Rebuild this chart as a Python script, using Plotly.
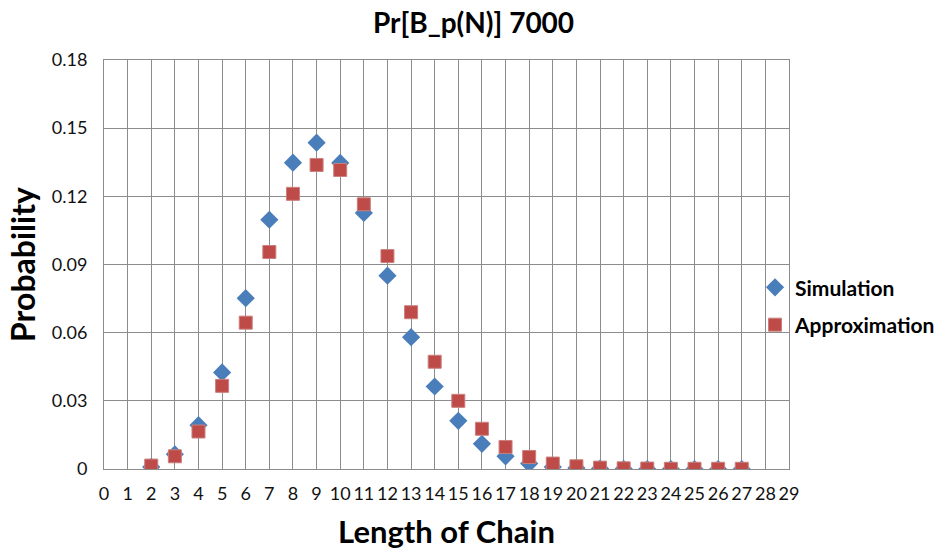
import plotly.graph_objects as go

# Chain lengths and probabilities
chain_length = list(range(2, 28))
simulation = [0.0009, 0.0065, 0.0193, 0.0425, 0.0752, 0.1097, 0.1348, 0.1436, 0.1347,
              0.1127, 0.0851, 0.0580, 0.0363, 0.0212, 0.0111, 0.0056, 0.0024, 0.0009,
              0.0004, 0.0002, 0.0001, 0.0, 0.0, 0.0, 0.0, 0.0]
approximation = [0.0015, 0.0056, 0.0165, 0.0366, 0.0644, 0.0955, 0.1211, 0.1338, 0.1316,
                 0.1165, 0.0937, 0.0690, 0.0472, 0.0300, 0.0177, 0.0097, 0.0053, 0.0024,
                 0.0012, 0.0006, 0.0003, 0.0002, 0.0001, 0.0001, 0.0001, 0.0001]

x_ticks = list(range(0, 30))
y_ticks = [0, 0.03, 0.06, 0.09, 0.12, 0.15, 0.18]

FONT = "Lato"
GRID = "#8c8c8c"

fig = go.Figure()
fig.add_trace(go.Scatter(
    x=chain_length, y=simulation, mode="markers", name="<b>Simulation</b>",
    legendgroup="sim",
    marker=dict(symbol="diamond", size=14, color="#4a7ebb"),
))
fig.add_trace(go.Scatter(
    x=chain_length, y=approximation, mode="markers", name="<b>Approximation</b>",
    legendgroup="approx",
    marker=dict(symbol="square", size=13, color="#be4b48",
                line=dict(color="#c9807e", width=1)),
))

fig.update_layout(
    width=947, height=552,
    margin=dict(l=104, r=158, t=60, b=83, autoexpand=False),
    paper_bgcolor="white", plot_bgcolor="white",
    font=dict(family=FONT, color="#000000"),
    title=dict(text="<b>Pr[B_p(N)] 7000</b>", x=0.5, xanchor="center",
               y=0.958, yanchor="middle", font=dict(size=28, family=FONT)),
    legend=dict(x=0.9504, y=0.398, xanchor="left", yanchor="middle",
                font=dict(size=21, family=FONT), tracegroupgap=7,
                bgcolor="rgba(0,0,0,0)", itemwidth=30),
    showlegend=True,
)
fig.update_xaxes(
    range=[0, 29], tickvals=x_ticks, ticktext=[str(v) for v in x_ticks],
    showgrid=True, gridcolor=GRID, gridwidth=1, zeroline=False,
    showline=True, linecolor=GRID, mirror=True,
    ticks="", tickfont=dict(size=18, family=FONT, color="#111"),
    ticklabelstandoff=8, automargin=False,
    title=dict(text="<b>Length of Chain</b>", font=dict(size=31, family=FONT), standoff=18),
)
fig.update_yaxes(
    range=[0, 0.18], tickvals=y_ticks, ticktext=["0", "0.03", "0.06", "0.09", "0.12", "0.15", "0.18"],
    showgrid=True, gridcolor=GRID, gridwidth=1, zeroline=False,
    showline=True, linecolor=GRID, mirror=True,
    ticks="", tickfont=dict(size=18, family=FONT, color="#111"),
    ticklabelstandoff=12, automargin=False,
    title=dict(text="<b>Probability</b>", font=dict(size=32, family=FONT), standoff=6),
)

fig.write_html("out.html")
